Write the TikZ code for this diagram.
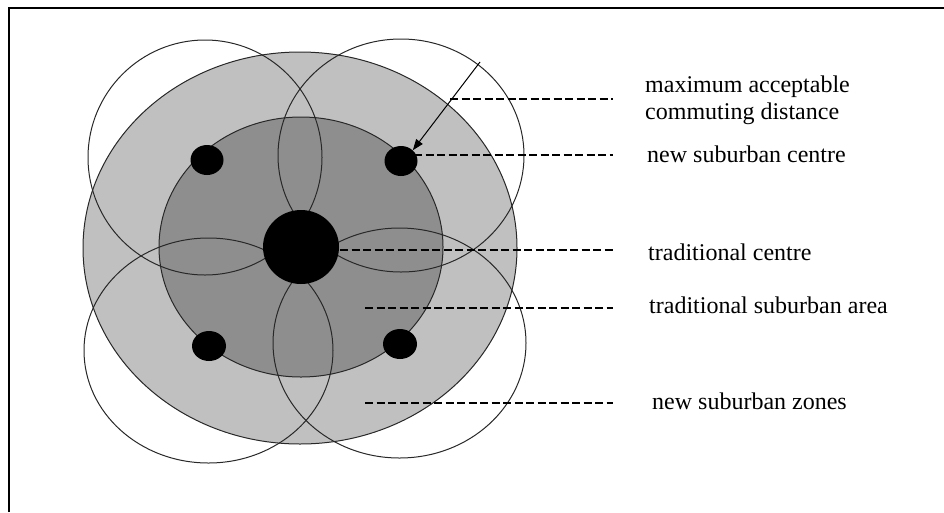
\documentclass[tikz,border=0pt]{standalone}
\usepackage{fontspec}
\setmainfont{Liberation Serif}
\usetikzlibrary{shapes.geometric,arrows.meta}
\definecolor{zonelight}{RGB}{192,192,192}
\definecolor{zonedark}{RGB}{142,142,142}
\definecolor{outline}{RGB}{40,40,40}
\begin{document}
\begin{tikzpicture}[x=1pt,y=-1pt,
  zone/.style={ellipse,draw=outline,line width=1pt,inner sep=0pt},
  reach/.style={ellipse,draw=outline,line width=1pt,inner sep=0pt},
  centre/.style={ellipse,fill=black,inner sep=0pt},
  leader/.style={line width=1.1pt,dash pattern=on 8pt off 3.5pt},
  lbl/.style={inner sep=0pt,anchor=base west,font=\fontsize{24}{27}\selectfont,align=left}]
\useasboundingbox (0,0) rectangle (944,512);
\draw[line width=2.2pt] (9,512) -- (9,8) -- (944,8);
% zones
\node[zone,fill=zonelight,minimum width=434pt,minimum height=392pt] (outer) at (300,248) {};
\node[zone,fill=zonedark,minimum width=284pt,minimum height=260pt] (inner) at (301,247) {};
% commuting circles
\node[reach,minimum width=234pt,minimum height=235pt] (rTL) at (205,157.5) {};
\node[reach,minimum width=246pt,minimum height=233pt] (rTR) at (401,155.5) {};
\node[reach,minimum width=249pt,minimum height=225pt] (rBL) at (208.5,350.5) {};
\node[reach,minimum width=253pt,minimum height=230pt] (rBR) at (399.5,343) {};
% centres
\node[centre,minimum width=76pt,minimum height=74pt] (tc) at (301,247) {};
\node[centre,minimum width=33pt,minimum height=30pt] (dTL) at (207,160) {};
\node[centre,minimum width=33pt,minimum height=30pt] (dTR) at (401,161) {};
\node[centre,minimum width=34pt,minimum height=30pt] (dBL) at (209,346) {};
\node[centre,minimum width=34pt,minimum height=30pt] (dBR) at (400,344) {};
% radius arrow
\coordinate (rstart) at (480,62);
\draw[line width=1pt,-{Triangle[length=11pt,width=8pt]}] (rstart) -- (dTR.north east);
% labels
\node[lbl] (l1) at (645,119) {maximum acceptable\\commuting distance};
\node[lbl] (l2) at (647,162) {new suburban centre};
\node[lbl] (l3) at (648,260) {traditional centre};
\node[lbl] (l4) at (649,313) {traditional suburban area};
\node[lbl] (l5) at (652,409) {new suburban zones};
% leaders
\coordinate (a1) at (450,99);  \coordinate (b1) at (613,99);
\coordinate (a2) at (414,155); \coordinate (b2) at (613,155);
\coordinate (a3) at (340,250); \coordinate (b3) at (613,250);
\coordinate (a4) at (365,308); \coordinate (b4) at (613,308);
\coordinate (a5) at (365,403); \coordinate (b5) at (613,403);
\draw[leader] (a1) -- (b1);
\draw[leader] (a2) -- (b2);
\draw[leader] (a3) -- (b3);
\draw[leader] (a4) -- (b4);
\draw[leader] (a5) -- (b5);
\end{tikzpicture}
\end{document}
